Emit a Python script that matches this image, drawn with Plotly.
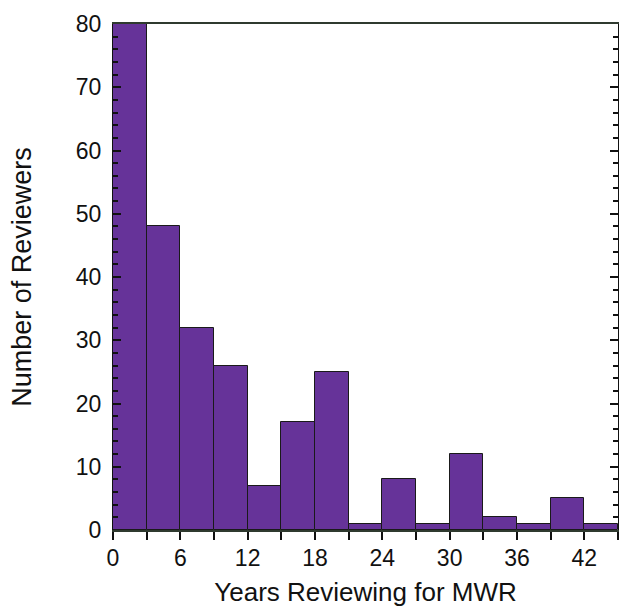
import plotly.graph_objects as go

bin_starts = [0, 3, 6, 9, 12, 15, 18, 21, 24, 27, 30, 33, 36, 39, 42]
bin_width = 3
counts = [80, 48, 32, 26, 7, 17, 25, 1, 8, 1, 12, 2, 1, 5, 1]
x_ticks = [0, 6, 12, 18, 24, 30, 36, 42]
y_ticks = [0, 10, 20, 30, 40, 50, 60, 70, 80]

centers = [s + bin_width / 2 for s in bin_starts]

fig = go.Figure(go.Bar(
    x=centers, y=counts, width=[bin_width] * len(counts),
    marker=dict(color="#663399", line=dict(color="#1a1a1a", width=1)),
))

font = dict(family="Liberation Sans, Arial, sans-serif", size=23, color="#111111")
fig.update_layout(
    width=619, height=607,
    margin=dict(l=113, r=1, t=24, b=77),
    paper_bgcolor="white", plot_bgcolor="white",
    showlegend=False, bargap=0,
    font=font,
)
fig.update_xaxes(
    range=[0, 45], tickvals=x_ticks, ticktext=[str(v) for v in x_ticks],
    ticks="outside", ticklen=8, tickwidth=1.5, tickcolor="#111111",
    minor=dict(dtick=3, tick0=0, ticks="outside", ticklen=8, tickwidth=1.5, tickcolor="#111111"),
    showline=True, linecolor="#2f3a2f", linewidth=2, mirror=True,
    showgrid=False, zeroline=False, ticklabelstandoff=-2,
    title=dict(text="Years Reviewing for MWR", standoff=14, font=dict(size=26)),
)
fig.update_yaxes(
    range=[0, 80], tickvals=y_ticks,
    ticks="inside", ticklen=8, tickwidth=1.5, tickcolor="#111111",
    minor=dict(dtick=2, tick0=0, ticks="inside", ticklen=5, tickwidth=1.5, tickcolor="#111111"),
    showline=True, linecolor="#111111", linewidth=1, mirror="ticks",
    showgrid=False, zeroline=False, ticklabelstandoff=6,
    title=dict(text="Number of Reviewers", standoff=36, font=dict(size=27)),
)
fig.write_html(
    "out.html",
    config={"displayModeBar": False},
    post_script=(
        "document.body.style.margin='0';"
        "document.body.style.overflow='hidden';"
        "document.documentElement.style.overflow='hidden';"
    ),
)
